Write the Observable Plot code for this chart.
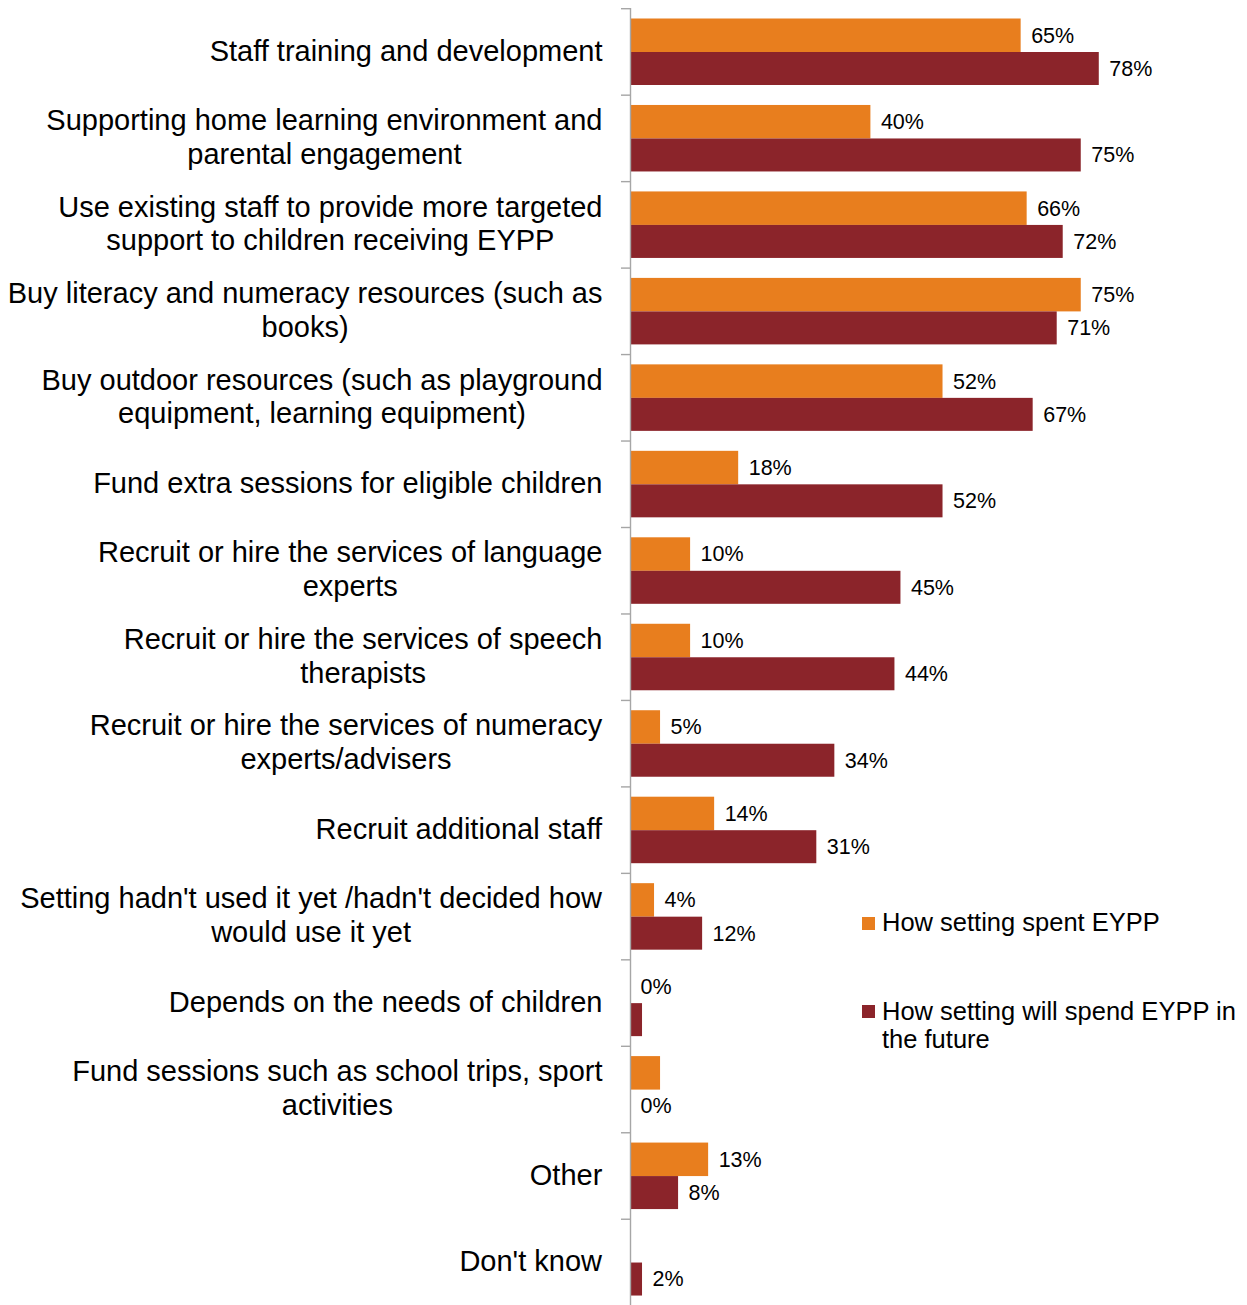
<!DOCTYPE html>
<html><head><meta charset="utf-8">
<script src="https://cdn.jsdelivr.net/npm/d3@7"></script>
<script src="https://cdn.jsdelivr.net/npm/@observablehq/plot@0.6"></script>
<style>
html,body{margin:0;padding:0;background:#fff;}
#wrap{position:relative;width:1247px;height:1305px;font-family:"Liberation Sans",Arial,sans-serif;}
.leg{position:absolute;left:862px;font-size:25.5px;line-height:28px;color:#000;}
.leg .sw{position:absolute;left:0;width:13px;height:13px;}
.leg .tx{position:absolute;left:20px;width:360px;white-space:normal;}
</style></head><body><div id="wrap"></div>
<script>
const categories = [
  "Staff training and development",
  "Supporting home learning environment and\nparental engagement",
  "Use existing staff to provide more targeted\nsupport to children receiving EYPP",
  "Buy literacy and numeracy resources (such as\nbooks)",
  "Buy outdoor resources (such as playground\nequipment, learning equipment)",
  "Fund extra sessions for eligible children",
  "Recruit or hire the services of language\nexperts",
  "Recruit or hire the services of speech\ntherapists",
  "Recruit or hire the services of numeracy\nexperts/advisers",
  "Recruit additional staff",
  "Setting hadn't used it yet /hadn't decided how\nwould use it yet",
  "Depends on the needs of children",
  "Fund sessions such as school trips, sport\nactivities",
  "Other",
  "Don't know"
];
const spent  = [65, 40, 66, 75, 52, 18, 10, 10, 5, 14, 4, 0, 5, 13, 0];
const future = [78, 75, 72, 71, 67, 52, 45, 44, 34, 31, 12, 2, 0, 8, 2];
const spentLabels  = ["65%","40%","66%","75%","52%","18%","10%","10%","5%","14%","4%","0%","","13%",""];
const futureLabels = ["78%","75%","72%","71%","67%","52%","45%","44%","34%","31%","12%","","0%","8%","2%"];
const seriesNames  = ["How setting spent EYPP", "How setting will spend EYPP in the future"];
const seriesColors = ["#E87E1E", "#8B242A"];

const W = 1247, H = 1305, mTop = 8, mBottom = 0, mLeft = 630, mRight = 16;
const step = (H - mTop - mBottom) / categories.length;
const font = '"Liberation Sans", Arial, sans-serif';

const rows = categories.map((c, i) => ({
  category: c, spent: spent[i], future: future[i],
  spentLabel: spentLabels[i], futureLabel: futureLabels[i]
}));

const plot = Plot.plot({
  width: W, height: H,
  marginTop: mTop, marginBottom: mBottom, marginLeft: mLeft, marginRight: mRight,
  style: {fontFamily: font, fontSize: "21.5px", color: "#000", background: "#fff"},
  x: {domain: [0, 100], axis: null},
  y: {domain: categories, padding: 0, round: false, axis: null},
  marks: [
    Plot.barX(rows, {y: "category", x: "spent", fill: seriesColors[0], insetTop: 10.5, insetBottom: step - 44}),
    Plot.barX(rows, {y: "category", x: "future", fill: seriesColors[1], insetTop: 44, insetBottom: step - 77}),
    Plot.text(rows, {y: "category", x: "spent", text: "spentLabel", textAnchor: "start", dx: 10, dy: 27.25 - step / 2, fontSize: 21.5, fill: "#000"}),
    Plot.text(rows, {y: "category", x: "future", text: "futureLabel", textAnchor: "start", dx: 10, dy: 60.5 - step / 2, fontSize: 21.5, fill: "#000"}),
    Plot.barX(categories, {y: d => d, x1: -1.5, x2: 0, insetBottom: step - 1.4, fill: "#a6a6a6"}),
    Plot.ruleX([0], {stroke: "#a6a6a6", strokeWidth: 1.4}),
    Plot.text(categories, {y: d => d, text: d => d, frameAnchor: "left", dx: -28, dy: -2, textAnchor: "end",
      fontSize: 29, lineHeight: 1.17, fill: "#000"})
  ]
});

const wrap = document.getElementById("wrap");
wrap.appendChild(plot);

// centre the lines of each multi-line category label within its right-aligned block
const textGroups = plot.querySelectorAll('g[aria-label="text"]');
const labelGroup = textGroups[textGroups.length - 1];
labelGroup.querySelectorAll("text").forEach(t => {
  const w = t.getBBox().width;
  t.setAttribute("text-anchor", "middle");
  t.setAttribute("transform", (t.getAttribute("transform") || "") + ` translate(${-w / 2},0)`);
});

// legend
const legTops = [908, 997];
seriesNames.forEach((name, i) => {
  const d = document.createElement("div");
  d.className = "leg";
  d.style.top = legTops[i] + "px";
  const sw = document.createElement("span");
  sw.className = "sw";
  sw.style.top = (i === 0 ? 9 : 8) + "px";
  sw.style.background = seriesColors[i];
  const tx = document.createElement("span");
  tx.className = "tx";
  tx.textContent = name;
  d.appendChild(sw); d.appendChild(tx);
  wrap.appendChild(d);
});
</script>
</body></html>
